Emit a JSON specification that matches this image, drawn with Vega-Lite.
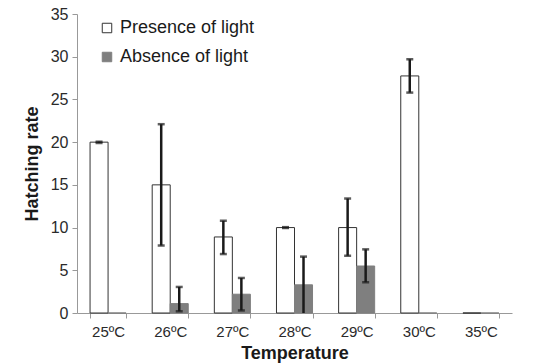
{
  "$schema": "https://vega.github.io/schema/vega-lite/v6.json",
  "width": 435,
  "height": 299,
  "autosize": {"type": "none"},
  "padding": {"left": 77, "top": 14, "right": 32, "bottom": 51},
  "background": "#ffffff",
  "config": {
    "view": {"stroke": null},
    "font": "Liberation Sans"
  },
  "data": {
    "values": [
      {"temp": "25ºC", "cond": "Presence of light", "value": 20.0, "lo": 19.9, "hi": 20.05},
      {"temp": "25ºC", "cond": "Absence of light", "value": 0, "lo": null, "hi": null},
      {"temp": "26ºC", "cond": "Presence of light", "value": 15.0, "lo": 7.9, "hi": 22.1},
      {"temp": "26ºC", "cond": "Absence of light", "value": 1.1, "lo": 0.2, "hi": 3.05},
      {"temp": "27ºC", "cond": "Presence of light", "value": 8.9, "lo": 6.9, "hi": 10.8},
      {"temp": "27ºC", "cond": "Absence of light", "value": 2.2, "lo": 0.3, "hi": 4.1},
      {"temp": "28ºC", "cond": "Presence of light", "value": 10.0, "lo": 9.95, "hi": 10.05},
      {"temp": "28ºC", "cond": "Absence of light", "value": 3.3, "lo": 0, "hi": 6.6},
      {"temp": "29ºC", "cond": "Presence of light", "value": 10.0, "lo": 6.7, "hi": 13.4},
      {"temp": "29ºC", "cond": "Absence of light", "value": 5.5, "lo": 3.6, "hi": 7.45},
      {"temp": "30ºC", "cond": "Presence of light", "value": 27.75, "lo": 25.8, "hi": 29.7},
      {"temp": "30ºC", "cond": "Absence of light", "value": 0, "lo": null, "hi": null},
      {"temp": "35ºC", "cond": "Presence of light", "value": 0, "lo": null, "hi": null},
      {"temp": "35ºC", "cond": "Absence of light", "value": 0, "lo": null, "hi": null}
    ]
  },
  "encoding": {
    "x": {
      "field": "temp",
      "type": "nominal",
      "sort": null,
      "scale": {"paddingInner": 0.42, "paddingOuter": 0.21},
      "axis": {
        "title": "Temperature",
        "titleFontSize": 18,
        "titleFontWeight": "bold",
        "titleColor": "#1a1a1a",
        "titlePadding": 5,
        "labelAngle": 0,
        "labelFontSize": 15,
        "labelColor": "#2a2a2a",
        "labelPadding": 6,
        "tickBand": "extent",
        "tickSize": 5,
        "tickColor": "#999999",
        "domainColor": "#999999",
        "grid": false
      }
    },
    "xOffset": {"field": "cond", "type": "nominal", "sort": ["Presence of light", "Absence of light"]}
  },
  "layer": [
    {
      "mark": {"type": "bar", "strokeWidth": 1},
      "encoding": {
        "y": {
          "field": "value",
          "type": "quantitative",
          "scale": {"domain": [0, 35], "nice": false},
          "axis": {
            "title": "Hatching rate",
            "titleFontSize": 18,
            "titleFontWeight": "bold",
            "titleColor": "#1a1a1a",
            "titlePadding": 9,
            "values": [0, 5, 10, 15, 20, 25, 30, 35],
            "labelFontSize": 16,
            "labelColor": "#2a2a2a",
            "labelPadding": 4,
            "tickSize": 5,
            "tickColor": "#999999",
            "domainColor": "#999999",
            "grid": false
          }
        },
        "fill": {
          "field": "cond",
          "type": "nominal",
          "sort": ["Presence of light", "Absence of light"],
          "scale": {"domain": ["Presence of light", "Absence of light"], "range": ["#ffffff", "#7f7f7f"]},
          "legend": {
            "title": null,
            "orient": "none",
            "legendX": 21,
            "legendY": 5,
            "symbolType": "square",
            "symbolSize": 90,
            "labelFontSize": 18,
            "labelColor": "#1a1a1a",
            "rowPadding": 11,
            "labelOffset": 4,
            "symbolStrokeWidth": 1
          }
        },
        "stroke": {
          "field": "cond",
          "type": "nominal",
          "sort": ["Presence of light", "Absence of light"],
          "scale": {"domain": ["Presence of light", "Absence of light"], "range": ["#333333", "#7f7f7f"]},
          "legend": null
        }
      }
    },
    {
      "transform": [{"filter": "datum.lo != null"}],
      "mark": {"type": "rule", "color": "#1a1a1a", "strokeWidth": 2.5},
      "encoding": {
        "y": {"field": "lo", "type": "quantitative"},
        "y2": {"field": "hi"}
      }
    },
    {
      "transform": [{"filter": "datum.lo != null"}],
      "mark": {"type": "tick", "color": "#1a1a1a", "thickness": 2.5, "size": 7, "orient": "horizontal"},
      "encoding": {"y": {"field": "hi", "type": "quantitative"}}
    },
    {
      "transform": [{"filter": "datum.lo != null && datum.lo > 0"}],
      "mark": {"type": "tick", "color": "#1a1a1a", "thickness": 2.5, "size": 7, "orient": "horizontal"},
      "encoding": {"y": {"field": "lo", "type": "quantitative"}}
    }
  ]
}
